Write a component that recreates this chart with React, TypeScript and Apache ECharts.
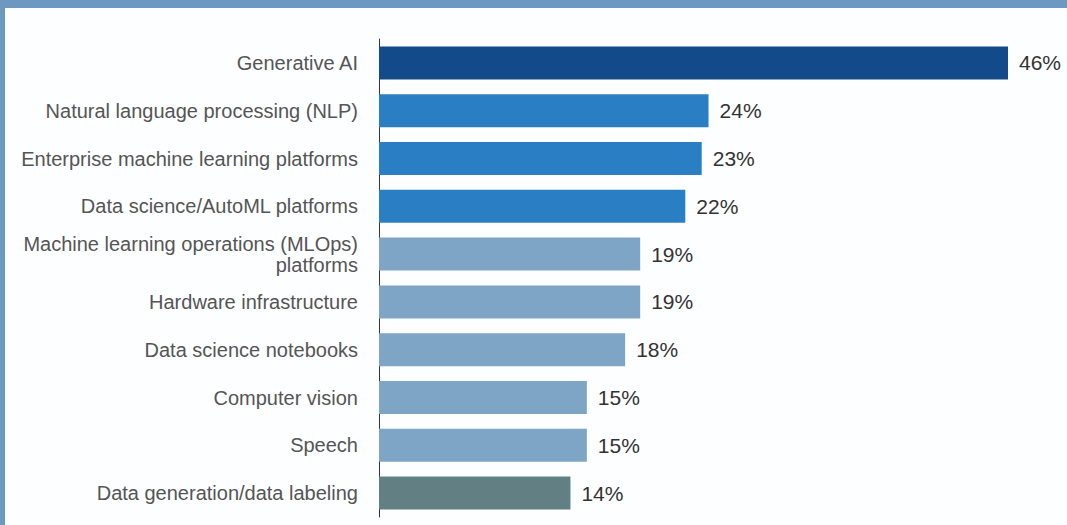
import React, { useEffect, useRef } from "react";
import * as echarts from "echarts";

const categories = [
  "Generative AI",
  "Natural language processing (NLP)",
  "Enterprise machine learning platforms",
  "Data science/AutoML platforms",
  "Machine learning operations (MLOps)\nplatforms",
  "Hardware infrastructure",
  "Data science notebooks",
  "Computer vision",
  "Speech",
  "Data generation/data labeling",
];
const values = [46, 24.1, 23.6, 22.4, 19.1, 19.1, 18.0, 15.2, 15.2, 14.0];
const valueLabels = ["46%", "24%", "23%", "22%", "19%", "19%", "18%", "15%", "15%", "14%"];
const barColors = [
  "#134b8a",
  "#2a7ec3",
  "#2a7ec3",
  "#2a7ec3",
  "#7ea5c6",
  "#7ea5c6",
  "#7ea5c6",
  "#7ea5c6",
  "#7ea5c6",
  "#627f84",
];

export default function App() {
  const ref = useRef<HTMLDivElement>(null);
  useEffect(() => {
    if (!ref.current) return;
    const chart = echarts.init(ref.current, null, { renderer: "svg" });
    chart.setOption({
      animation: false,
      backgroundColor: "#fdfeff",
      graphic: [
        { type: "rect", left: 0, top: 0, shape: { width: 1067, height: 8 }, style: { fill: "#6d99c0" } },
        { type: "rect", left: 0, top: 0, shape: { width: 5, height: 525 }, style: { fill: "#6d99c0" } },
      ],
      grid: { left: 379, right: 59, top: 39, bottom: 8, containLabel: false },
      xAxis: { type: "value", min: 0, max: 46, show: false },
      yAxis: {
        type: "category",
        data: categories,
        inverse: true,
        axisLine: { show: true, lineStyle: { color: "#333", width: 1 } },
        axisTick: { show: false },
        axisLabel: {
          margin: 21,
          fontSize: 20,
          lineHeight: 21,
          color: "#555",
          fontFamily: "Liberation Sans, Arial, sans-serif",
          align: "right",
        },
      },
      series: [
        {
          type: "bar",
          data: values.map((v, i) => ({ value: v, itemStyle: { color: barColors[i] } })),
          barWidth: 33,
          label: {
            show: true,
            position: "right",
            distance: 11,
            formatter: (p: any) => valueLabels[p.dataIndex],
            fontSize: 21,
            color: "#333",
            fontFamily: "Liberation Sans, Arial, sans-serif",
          },
        },
      ],
    });
    return () => chart.dispose();
  }, []);
  return (
    <div
      ref={ref}
      style={{ position: "fixed", left: 0, top: 0, width: 1067, height: 525 }}
    />
  );
}
